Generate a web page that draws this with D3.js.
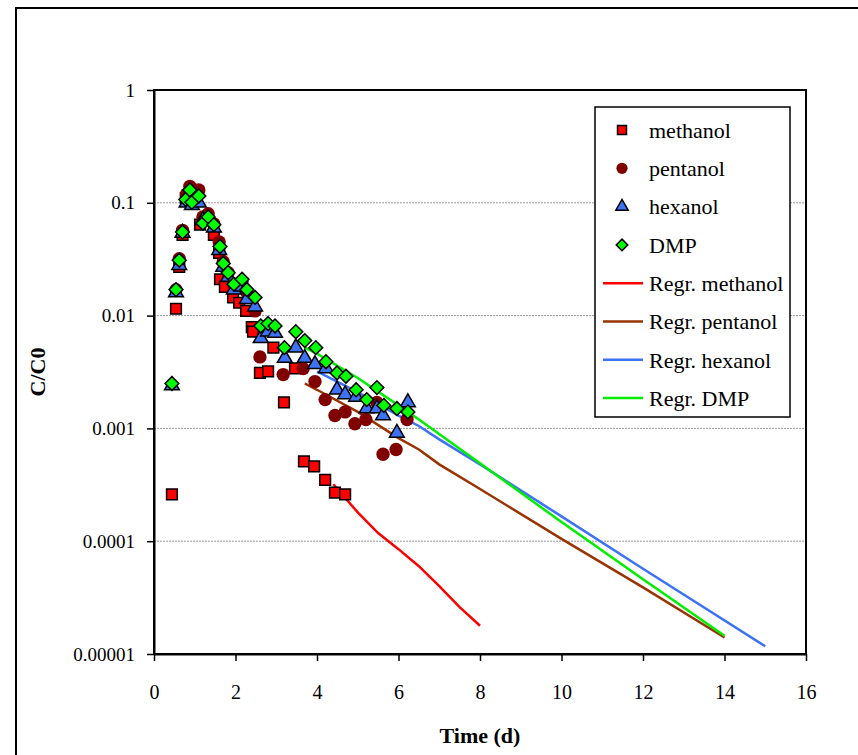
<!DOCTYPE html>
<html lang="en">
<head>
<meta charset="UTF-8">
<title>C/C0 vs time</title>
<script src="https://d3js.org/d3.v7.min.js"></script>
<style>
  body { margin: 0; background: #fff; }
  text { font-family: "Liberation Serif", "Times New Roman", serif; }
</style>
</head>
<body>
<div id="chart"></div>
<script>
// measured series (time in days, C/C0)
var methT = [0.44,0.54,0.62,0.7,0.78,0.9,1.05,1.13,1.47,1.6,1.62,1.74,1.94,2.09,2.26,2.4,2.43,2.6,2.8,2.93,3.19,3.46,3.68,3.93,4.2,4.44,4.69];
var methC = [0.00026,0.0115,0.027,0.052,0.11,0.13,0.12,0.064,0.052,0.036,0.021,0.018,0.0145,0.013,0.011,0.0079,0.0072,0.0031,0.0032,0.0052,0.0017,0.0034,0.00051,0.00046,0.00035,0.00027,0.00026];

var pentT = [0.54,0.62,0.7,0.8,0.88,1.1,1.2,1.33,1.47,1.6,1.7,1.82,1.96,2.16,2.28,2.48,2.6,3.17,3.66,3.95,4.2,4.44,4.69,4.93,5.2,5.47,5.62,5.94,6.21];
var pentC = [0.017,0.032,0.057,0.12,0.14,0.13,0.075,0.08,0.065,0.045,0.03,0.024,0.019,0.02,0.016,0.011,0.0043,0.003,0.0034,0.0026,0.0018,0.0013,0.0014,0.0011,0.0012,0.0017,0.00059,0.00065,0.0012];

var hexT = [0.44,0.54,0.62,0.7,0.8,0.93,1.1,1.2,1.33,1.47,1.6,1.7,1.82,1.96,2.16,2.28,2.48,2.62,2.8,2.97,3.21,3.48,3.7,3.95,4.22,4.49,4.69,4.96,5.22,5.47,5.62,5.96,6.23];
var hexC = [0.0024,0.016,0.028,0.054,0.1,0.095,0.1,0.07,0.072,0.06,0.038,0.027,0.022,0.017,0.018,0.014,0.012,0.0063,0.0072,0.007,0.0042,0.0052,0.0042,0.0037,0.0034,0.0022,0.002,0.0019,0.0015,0.0015,0.0013,0.00091,0.0017];

var dmpT = [0.44,0.54,0.62,0.7,0.78,0.88,0.93,1.1,1.2,1.33,1.47,1.62,1.7,1.82,1.96,2.16,2.28,2.48,2.62,2.8,2.97,3.2,3.48,3.7,3.97,4.22,4.49,4.71,4.96,5.22,5.47,5.64,5.96,6.23];
var dmpC = [0.0025,0.017,0.031,0.055,0.107,0.13,0.101,0.115,0.066,0.075,0.064,0.041,0.029,0.024,0.019,0.021,0.017,0.0145,0.0081,0.0085,0.0081,0.0052,0.0072,0.006,0.0052,0.0039,0.0031,0.0029,0.0022,0.0018,0.0023,0.0016,0.0015,0.0014];

// regression curves
var regMethT = [4.4,5,5.5,6,6.5,7,7.5,8];
var regMethC = [0.00032,0.00018,0.000118,0.000085,0.00006,0.00004,0.000026,0.0000178];
var regPentT = [3.7,4,5,6,6.5,7,8,10,12,14];
var regPentC = [0.0025,0.0022,0.0014,0.00082,0.00065,0.00048,0.00029,0.000105,0.000039,0.000014];
var regHexT = [4.0,5,6,6.5,7,8,10,12,15];
var regHexC = [0.0032,0.0021,0.0013,0.00105,0.0008,0.00048,0.000166,0.000057,0.0000117];
var regDmpT = [3.7,4,5,6,6.5,8,10,12,14];
var regDmpC = [0.0052,0.0046,0.0028,0.0016,0.0012,0.00049,0.000148,0.000046,0.0000145];

var xTicks = [0,2,4,6,8,10,12,14,16];
var yTicks = [1,0.1,0.01,0.001,0.0001,0.00001];
var yTickLabels = ["1","0.1","0.01","0.001","0.0001","0.00001"];

var W = 858, H = 755;
var margin = {top: 90, left: 154, right: 52, bottom: 101};
var width = W - margin.left - margin.right,
    height = H - margin.top - margin.bottom;

var svg = d3.select("#chart").append("svg")
    .attr("width", W).attr("height", H);

// outer frame (runs off the picture at right and bottom)
svg.append("rect")
    .attr("x", 16).attr("y", 8).attr("width", 900).attr("height", 800)
    .attr("fill", "none").attr("stroke", "#000").attr("stroke-width", 2);

var g = svg.append("g")
    .attr("transform", "translate(" + margin.left + "," + margin.top + ")");

var x = d3.scaleLinear().domain([0, 16]).range([0, width]);
var y = d3.scaleLog().domain([0.00001, 1]).range([height, 0]);

// gridlines
g.selectAll(".grid").data(yTicks.slice(1, 5)).enter().append("line")
    .attr("x1", 0).attr("x2", width)
    .attr("y1", function(d) { return y(d); })
    .attr("y2", function(d) { return y(d); })
    .attr("stroke", "#999").attr("stroke-width", 1)
    .attr("stroke-dasharray", "2,1");

// plot box
g.append("rect").attr("width", width).attr("height", height)
    .attr("fill", "none").attr("stroke", "#000").attr("stroke-width", 2);

var xAxis = g.append("g")
    .attr("transform", "translate(0," + height + ")")
    .call(d3.axisBottom(x).tickValues(xTicks).tickFormat(d3.format("d"))
        .tickSizeInner(7).tickSizeOuter(0).tickPadding(24));
xAxis.select(".domain").attr("stroke-width", 2);
xAxis.selectAll(".tick line").attr("stroke-width", 1.5);
xAxis.selectAll("text").style("font-family", "Liberation Serif").style("font-size", "20px").attr("fill", "#000");

var yAxis = g.append("g")
    .call(d3.axisLeft(y).tickValues(yTicks)
        .tickFormat(function(d, i) { return yTickLabels[i]; })
        .tickSizeInner(7).tickSizeOuter(0).tickPadding(12));
yAxis.select(".domain").attr("stroke-width", 2);
yAxis.selectAll(".tick line").attr("stroke-width", 1.5);
yAxis.selectAll("text").style("font-family", "Liberation Serif").style("font-size", "19px").attr("fill", "#000");

// axis titles
svg.append("text")
    .attr("x", margin.left + width / 2).attr("y", 743)
    .attr("text-anchor", "middle")
    .style("font-size", "22px").style("font-weight", "bold")
    .text("Time (d)");
svg.append("text")
    .attr("transform", "translate(45," + (margin.top + height / 2) + ") rotate(-90)")
    .attr("text-anchor", "middle")
    .style("font-size", "22px").style("font-weight", "bold")
    .text("C/C0");

function pairs(ts, cs) {
  return ts.map(function(t, i) { return {t: t, c: cs[i]}; });
}

var line = d3.line()
    .x(function(d) { return x(d.t); })
    .y(function(d) { return y(d.c); });

var regs = [
  {name: "Regr. methanol", color: "#ff0000", data: pairs(regMethT, regMethC)},
  {name: "Regr. pentanol", color: "#993300", data: pairs(regPentT, regPentC)},
  {name: "Regr. hexanol", color: "#3d72f5", data: pairs(regHexT, regHexC)},
  {name: "Regr. DMP", color: "#00ee00", data: pairs(regDmpT, regDmpC)}
];

regs.forEach(function(r) {
  g.append("path").datum(r.data)
    .attr("d", line)
    .attr("fill", "none")
    .attr("stroke", r.color)
    .attr("stroke-width", 2.5);
});

// square turned 45 degrees, same width and height
var rhombus = {
  draw: function(ctx, size) {
    var r = Math.sqrt(size / 2);
    ctx.moveTo(0, -r); ctx.lineTo(r, 0); ctx.lineTo(0, r); ctx.lineTo(-r, 0); ctx.closePath();
  }
};

var series = [
  {name: "methanol", type: d3.symbolSquare, size: 115, fill: "#ff0000", stroke: "#000", data: pairs(methT, methC)},
  {name: "pentanol", type: d3.symbolCircle, size: 140, fill: "#800000", stroke: "none", data: pairs(pentT, pentC)},
  {name: "hexanol", type: d3.symbolTriangle, size: 95, fill: "#3d72f5", stroke: "#000", data: pairs(hexT, hexC)},
  {name: "DMP", type: rhombus, size: 95, fill: "#00ff00", stroke: "#000", data: pairs(dmpT, dmpC)}
];

series.forEach(function(s) {
  var sym = d3.symbol().type(s.type).size(s.size);
  g.selectAll(null).data(s.data).enter().append("path")
    .attr("d", sym)
    .attr("transform", function(d) { return "translate(" + x(d.t) + "," + y(d.c) + ")"; })
    .attr("fill", s.fill)
    .attr("stroke", s.stroke)
    .attr("stroke-width", 1.5);
});

// legend
var leg = svg.append("g");
leg.append("rect")
    .attr("x", 595).attr("y", 107).attr("width", 195).attr("height", 310)
    .attr("fill", "#fff").attr("stroke", "#000").attr("stroke-width", 1.5);

var rowY = function(i) { return 130 + i * 38.3; };

series.forEach(function(s, i) {
  var sym = d3.symbol().type(s.type).size(s.size * 0.7);
  leg.append("path")
    .attr("d", sym)
    .attr("transform", "translate(622," + rowY(i) + ")")
    .attr("fill", s.fill).attr("stroke", s.stroke).attr("stroke-width", 1.5);
  leg.append("text")
    .attr("x", 649).attr("y", rowY(i)).attr("dy", "0.35em")
    .style("font-size", "22px")
    .text(s.name);
});

regs.forEach(function(r, j) {
  var i = j + 4;
  leg.append("line")
    .attr("x1", 603).attr("x2", 643)
    .attr("y1", rowY(i)).attr("y2", rowY(i))
    .attr("stroke", r.color).attr("stroke-width", 2.5);
  leg.append("text")
    .attr("x", 649).attr("y", rowY(i)).attr("dy", "0.35em")
    .style("font-size", "22px")
    .text(r.name);
});
</script>
</body>
</html>
